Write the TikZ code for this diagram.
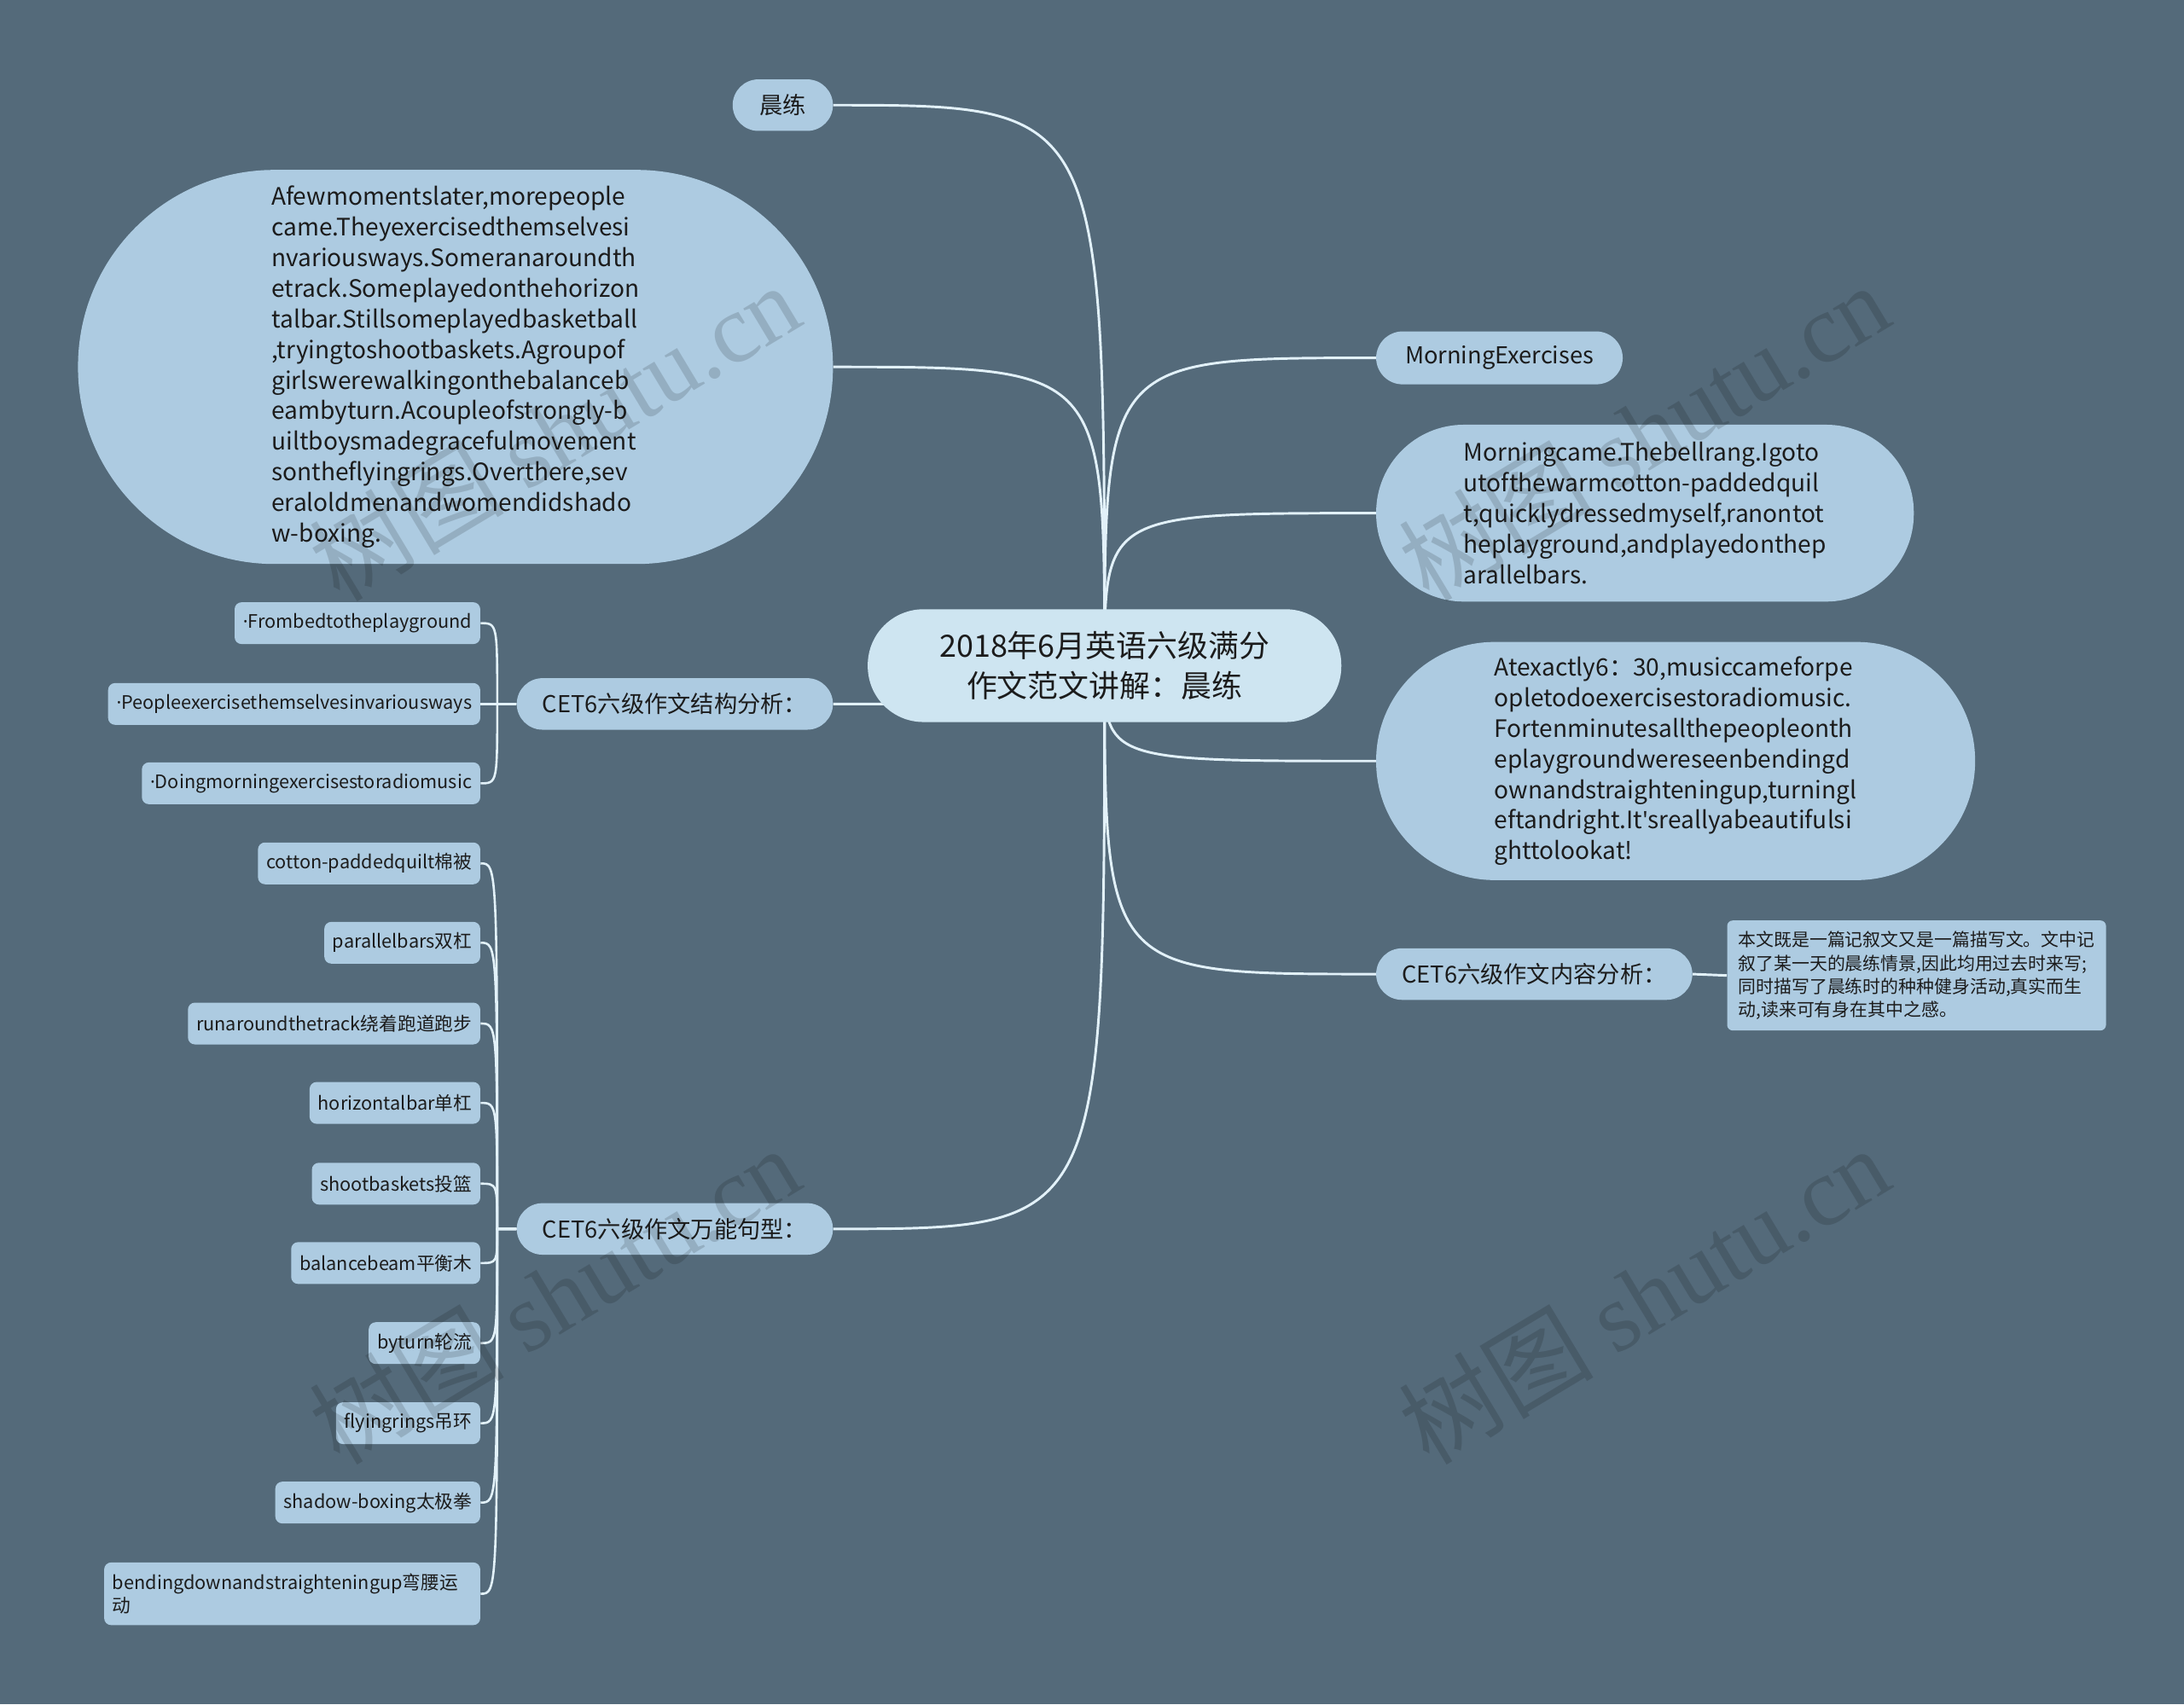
\documentclass[tikz,border=0pt]{standalone}
\usepackage{fontspec}
\setmainfont{Noto Sans CJK SC}
\newfontfamily\wmlatin{Liberation Serif}
\newfontfamily\latinf{Noto Sans}
\usetikzlibrary{backgrounds}
\definecolor{bgc}{RGB}{84,106,122}
\definecolor{nodefill}{RGB}{173,203,225}
\definecolor{centerfill}{RGB}{206,229,241}
\definecolor{linec}{RGB}{226,241,249}
\definecolor{txt}{RGB}{28,28,28}
\newcommand{\mydot}{{\latinf\char"00B7}}
\newcommand{\myapos}{{\latinf\char"0027}}
\begin{document}
\begin{tikzpicture}[x=1pt,y=-1pt,
  pill/.style={fill=nodefill, text=txt, inner sep=0pt, align=left},
  bodyfont/.style={font=\fontsize{17.2}{22}\selectfont},
  midfont/.style={font=\fontsize{16.7}{19}\selectfont},
  leaf/.style={fill=nodefill, text=txt, rounded corners=5pt, inner xsep=6pt, inner ysep=0pt,
    minimum height=30pt, anchor=east, align=left, font=\fontsize{13.3}{16}\selectfont},
  conn/.style={draw=linec, line width=1.8pt},
  subconn/.style={draw=linec, line width=1.6pt},
  wm/.style={text=black, opacity=0.14, rotate=31, font=\fontsize{70}{70}\selectfont}]
\useasboundingbox (0,0) rectangle (1568,1224);

% centre
\node[fill=centerfill, text=txt, inner sep=0pt, rounded corners=40pt, minimum width=340pt,
  minimum height=81pt, align=center, font=\fontsize{22}{29}\selectfont] (c) at (793,478)
  {2018年6月英语六级满分\\作文范文讲解：晨练};

% top-left
\node[pill, rounded corners=18.5pt, minimum width=72pt, minimum height=37pt, midfont] (cl) at (562,75.5) {晨练};
\node[pill, rounded corners=141pt, minimum width=542pt, minimum height=283pt, bodyfont] (big) at (327,263.5)
  {Afewmomentslater,morepeople\\came.Theyexercisedthemselvesi\\nvariousways.Someranaroundth\\etrack.Someplayedonthehorizon\\talbar.Stillsomeplayedbasketball\\,tryingtoshootbaskets.Agroupof\\girlswerewalkingonthebalanceb\\eambyturn.Acoupleofstrongly-b\\uiltboysmadegracefulmovement\\sontheflyingrings.Overthere,sev\\eraloldmenandwomendidshado\\w-boxing.};

% right side
\node[pill, rounded corners=19pt, minimum width=177pt, minimum height=38pt, midfont] (me) at (1076.5,257) {MorningExercises};
\node[pill, rounded corners=63pt, minimum width=386pt, minimum height=127pt, bodyfont] (mc) at (1181,368.5)
  {Morningcame.Thebellrang.Igoto\\utofthewarmcotton-paddedquil\\t,quicklydressedmyself,ranontot\\heplayground,andplayedonthep\\arallelbars.};
\node[pill, rounded corners=85pt, minimum width=430pt, minimum height=171pt, bodyfont] (ae) at (1203,546.5)
  {Atexactly6：30,musiccameforpe\\opletodoexercisestoradiomusic.\\Fortenminutesallthepeopleonth\\eplaygroundwereseenbendingd\\ownandstraighteningup,turningl\\eftandright.It\myapos sreallyabeautifulsi\\ghttolookat!};
\node[pill, rounded corners=18.5pt, minimum width=227pt, minimum height=37pt, midfont] (nr) at (1101.5,699.5) {CET6六级作文内容分析：};
\node[fill=nodefill, text=txt, rounded corners=4pt, inner sep=0pt, minimum width=272pt, minimum height=79pt,
  align=left, font=\fontsize{12.8}{16.6}\selectfont] (desc) at (1376,700.5)
  {本文既是一篇记叙文又是一篇描写文。文中记\\叙了某一天的晨练情景,因此均用过去时来写;\\同时描写了晨练时的种种健身活动,真实而生\\动,读来可有身在其中之感。};

% left branches
\node[pill, rounded corners=18.5pt, minimum width=227pt, minimum height=37pt, midfont] (jg) at (484.5,505.5) {CET6六级作文结构分析：};
\node[pill, rounded corners=18.5pt, minimum width=227pt, minimum height=37pt, midfont] (wn) at (484.5,882.5) {CET6六级作文万能句型：};

\node[leaf] (s1) at (345,447.5) {\mydot Frombedtotheplayground};
\node[leaf] (s2) at (345,505.5) {\mydot Peopleexercisethemselvesinvariousways};
\node[leaf] (s3) at (345,562.5) {\mydot Doingmorningexercisestoradiomusic};

\node[leaf] (v1) at (345,620) {cotton-paddedquilt棉被};
\node[leaf] (v2) at (345,677) {parallelbars双杠};
\node[leaf] (v3) at (345,735) {runaroundthetrack绕着跑道跑步};
\node[leaf] (v4) at (345,792) {horizontalbar单杠};
\node[leaf] (v5) at (345,850) {shootbaskets投篮};
\node[leaf] (v6) at (345,907) {balancebeam平衡木};
\node[leaf] (v7) at (345,964.5) {byturn轮流};
\node[leaf] (v8) at (345,1022) {flyingrings吊环};
\node[leaf] (v9) at (345,1079) {shadow-boxing太极拳};
\node[leaf, minimum height=45pt, text width=258pt] (v10) at (345,1144.5) {bendingdownandstraighteningup弯腰运\\动};

\coordinate (jgs) at (357,505.5);
\coordinate (wns) at (357,882.5);

\begin{scope}[on background layer]
  \fill[bgc] (0,0) rectangle (1568,1224);
  \foreach \n in {cl,jg,wn,big}{
    \draw[conn] (c.center) .. controls (c.center |- \n.east) .. (\n.east);
  }
  \foreach \n in {me,mc,ae,nr}{
    \draw[conn] (c.center) .. controls (c.center |- \n.west) .. (\n.west);
  }
  \draw[conn] (nr.east) -- (desc.west);
  \foreach \n in {s1,s2,s3}{
    \draw[subconn] (jg.west) -- (jgs) .. controls (jgs |- \n.east) .. (\n.east);
  }
  \foreach \n in {v1,v2,v3,v4,v5,v6,v7,v8,v9,v10}{
    \draw[subconn] (wn.west) -- (wns) .. controls (wns |- \n.east) .. (\n.east);
  }
\end{scope}

% watermarks
\node[wm] (w1) at (398,310) {树图 {\wmlatin shutu.cn}};
\node[wm] (w2) at (1180,310) {树图 {\wmlatin shutu.cn}};
\node[wm] (w3) at (398,930) {树图 {\wmlatin shutu.cn}};
\node[wm] (w4) at (1180,930) {树图 {\wmlatin shutu.cn}};
\end{tikzpicture}
\end{document}
